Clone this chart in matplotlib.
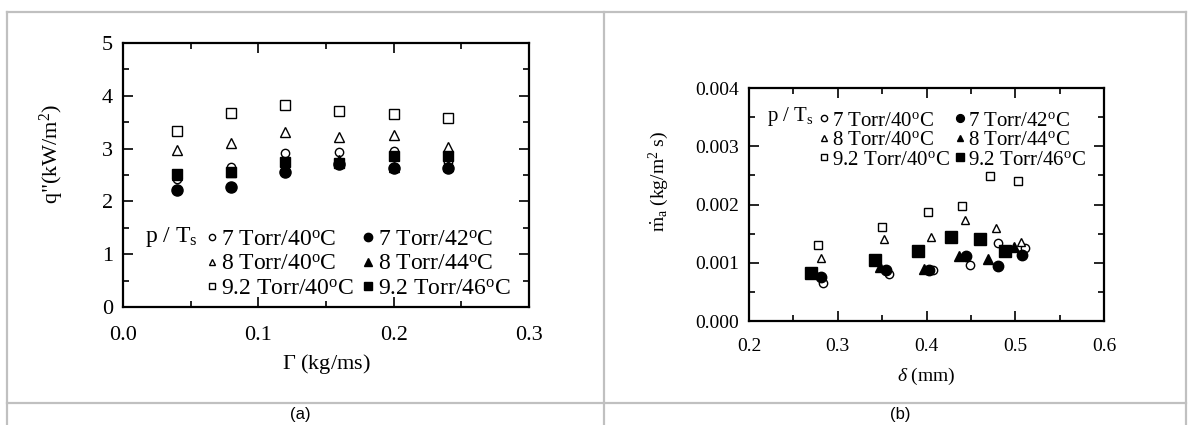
import matplotlib
matplotlib.use('Agg')
from matplotlib import pyplot as plt
from matplotlib.lines import Line2D
from matplotlib.ticker import MultipleLocator, FormatStrFormatter

plt.rcParams['font.family'] = ['Liberation Serif', 'DejaVu Serif']
plt.rcParams['mathtext.fontset'] = 'custom'
plt.rcParams['mathtext.rm'] = 'Liberation Serif'
plt.rcParams['mathtext.it'] = 'Liberation Serif:italic'

# series labels (same for both panels)
labels = [r'7 Torr/40$^\mathrm{o}$C', r'8 Torr/40$^\mathrm{o}$C', r'9.2 Torr/40$^\mathrm{o}$C',
          r'7 Torr/42$^\mathrm{o}$C', r'8 Torr/44$^\mathrm{o}$C', r'9.2 Torr/46$^\mathrm{o}$C']

# (a) heat flux vs film flow rate
gamma = [0.04, 0.08, 0.12, 0.16, 0.20, 0.24]
q_7_40 = [2.42, 2.66, 2.92, 2.93, 2.95, 2.74]
q_8_40 = [2.97, 3.10, 3.32, 3.22, 3.25, 3.04]
q_92_40 = [3.34, 3.68, 3.83, 3.72, 3.65, 3.58]
q_7_42 = [2.21, 2.28, 2.55, 2.70, 2.63, 2.63]
q_8_44 = [2.50, 2.55, 2.65, 2.78, 2.66, 2.68]
q_92_46 = [2.52, 2.56, 2.75, 2.72, 2.86, 2.86]

# (b) absorption rate vs film thickness
d_7_40 = [0.283, 0.358, 0.407, 0.449, 0.480, 0.511]
m_7_40 = [0.00065, 0.00080, 0.00088, 0.00097, 0.00134, 0.00126]
d_8_40 = [0.281, 0.352, 0.405, 0.443, 0.478, 0.506]
m_8_40 = [0.00108, 0.00140, 0.00144, 0.00174, 0.00160, 0.00135]
d_92_40 = [0.278, 0.350, 0.402, 0.440, 0.472, 0.503]
m_92_40 = [0.00130, 0.00161, 0.00187, 0.00197, 0.00249, 0.00241]
d_7_42 = [0.281, 0.354, 0.403, 0.444, 0.480, 0.507]
m_7_42 = [0.000755, 0.00087, 0.00088, 0.00112, 0.00094, 0.00114]
d_8_44 = [0.274, 0.348, 0.397, 0.436, 0.469, 0.498]
m_8_44 = [0.00082, 0.00093, 0.00090, 0.00111, 0.00107, 0.00127]
d_92_46 = [0.270, 0.342, 0.390, 0.428, 0.460, 0.488]
m_92_46 = [0.00082, 0.00105, 0.00121, 0.00144, 0.00140, 0.00121]

styles = [('o', 'white'), ('^', 'white'), ('s', 'white'),
          ('o', 'black'), ('^', 'black'), ('s', 'black')]


def style_axes(ax, fs, pad):
    ax.tick_params(which='both', direction='in', top=True, right=True,
                   labelsize=fs, width=1.2)
    ax.tick_params(axis='x', pad=pad)
    ax.tick_params(axis='y', pad=7)
    ax.tick_params(which='major', length=7)
    ax.tick_params(which='minor', length=4)
    for s in ax.spines.values():
        s.set_linewidth(1.6)


def main():
    fig = plt.figure(figsize=(11.89, 4.25), dpi=100)

    # ---- panel (a)
    ax1 = fig.add_axes([0.1034, 0.2776, 0.3415, 0.6212])
    ys = [q_7_40, q_8_40, q_92_40, q_7_42, q_8_44, q_92_46]
    sizes = [6, 6.5, 6.5, 8, 7, 7]
    handles = []
    for y, (mk, fc), ms, lab in zip(ys, styles, sizes, labels):
        h, = ax1.plot(gamma, y, linestyle='none', marker=mk, mfc=fc, mec='black',
                      mew=1.0, ms=ms, label=lab)
        handles.append(h)
    ax1.set_xlim(0, 0.3)
    ax1.set_ylim(0, 5)
    ax1.xaxis.set_major_locator(MultipleLocator(0.1))
    ax1.xaxis.set_minor_locator(MultipleLocator(0.05))
    ax1.yaxis.set_major_locator(MultipleLocator(1))
    ax1.yaxis.set_minor_locator(MultipleLocator(0.5))
    ax1.xaxis.set_major_formatter(FormatStrFormatter('%.1f'))
    style_axes(ax1, 16, 14)
    ax1.set_xlabel(r'$\Gamma$ (kg/ms)', fontsize=16, labelpad=5)
    ax1.set_ylabel(r'q"(kW/m$^2$)', fontsize=16)
    ax1.yaxis.set_label_coords(-0.14, 0.58)
    ax1.legend(handles=handles, ncol=2, frameon=False, fontsize=17,
               loc='lower left', bbox_to_anchor=(0.169, -0.025),
               handletextpad=0.15, columnspacing=0.35, labelspacing=0.12,
               handlelength=0.5, borderaxespad=0.2, markerscale=0.75)
    ax1.text(0.055, 0.265, r'p / T$_\mathrm{s}$', transform=ax1.transAxes,
             fontsize=17, va='center')

    # ---- panel (b)
    ax2 = fig.add_axes([0.630, 0.2447, 0.2986, 0.5482])
    xs = [d_7_40, d_8_40, d_92_40, d_7_42, d_8_44, d_92_46]
    ys = [m_7_40, m_8_40, m_92_40, m_7_42, m_8_44, m_92_46]
    sizes = [6, 6, 6, 7.5, 6.5, 8]
    handles = []
    for x, y, (mk, fc), ms, lab in zip(xs, ys, styles, sizes, labels):
        h, = ax2.plot(x, y, linestyle='none', marker=mk, mfc=fc, mec='black',
                      mew=1.0, ms=ms, label=lab)
        handles.append(h)
    ax2.set_xlim(0.2, 0.6)
    ax2.set_ylim(0, 0.004)
    ax2.xaxis.set_major_locator(MultipleLocator(0.1))
    ax2.xaxis.set_minor_locator(MultipleLocator(0.05))
    ax2.yaxis.set_major_locator(MultipleLocator(0.001))
    ax2.yaxis.set_minor_locator(MultipleLocator(0.0005))
    ax2.xaxis.set_major_formatter(FormatStrFormatter('%.1f'))
    ax2.yaxis.set_major_formatter(FormatStrFormatter('%.3f'))
    style_axes(ax2, 14, 12)
    ax2.set_xlabel(r'$\delta$ (mm)', fontsize=14, labelpad=8)
    ax2.set_ylabel(r'$\dot{\mathrm{m}}_\mathrm{a}$ (kg/m$^2$ s)', fontsize=14)
    ax2.yaxis.set_label_coords(-0.22, 0.6)
    ax2.legend(handles=handles, ncol=2, frameon=False, fontsize=15,
               loc='upper left', bbox_to_anchor=(0.16, 0.955),
               handletextpad=0.15, columnspacing=0.25, labelspacing=0.0,
               handlelength=0.5, borderaxespad=0.2, markerscale=0.75)
    ax2.text(0.05, 0.876, r'p / T$_\mathrm{s}$', transform=ax2.transAxes,
             fontsize=15, va='center')

    # table-like frame around the two panels
    W, H = 1189.0, 425.0
    frame = [((7, 12), (1186, 12)), ((7, 12), (7, 425)), ((604, 12), (604, 425)),
             ((1186, 12), (1186, 425)), ((7, 403), (1186, 403))]
    for (x0, y0), (x1, y1) in frame:
        fig.add_artist(Line2D([x0 / W, x1 / W], [1 - y0 / H, 1 - y1 / H],
                              color='#c0c0c0', lw=1.6))
    fig.text(300 / W, 1 - 414 / H, '(a)', ha='center', va='center',
             fontsize=12, family='Liberation Sans')
    fig.text(900 / W, 1 - 414 / H, '(b)', ha='center', va='center',
             fontsize=12, family='Liberation Sans')

    plt.savefig('out.png', dpi=100)


if __name__ == '__main__':
    main()
